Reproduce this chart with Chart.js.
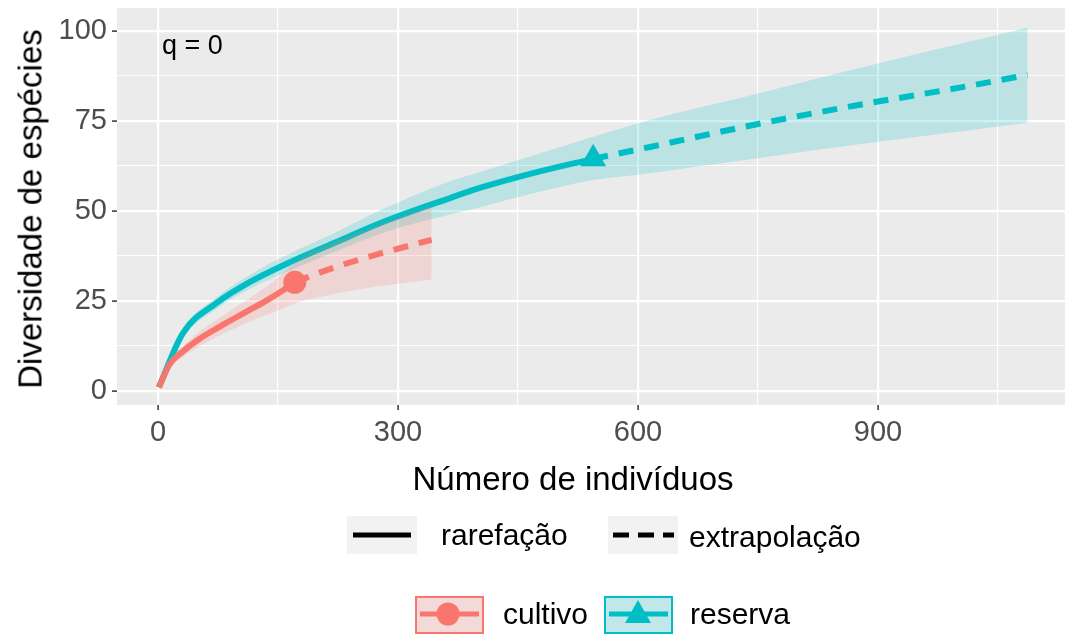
<!DOCTYPE html>
<html>
<head>
<meta charset="utf-8">
<script src="https://cdn.jsdelivr.net/npm/chart.js@4.4.1/dist/chart.umd.min.js"></script>
<style>
  html, body { margin: 0; padding: 0; background: #ffffff; }
  #wrap { position: relative; width: 1065px; height: 634px; overflow: hidden; font-family: "Liberation Sans", Arial, sans-serif; }
  #c { position: absolute; left: 0; top: 0; }
  .t { position: absolute; white-space: nowrap; color: #000; line-height: 1; }
  .key { position: absolute; }
</style>
</head>
<body>
<div id="wrap">
  <canvas id="c" width="1065" height="634"></canvas>
  <div class="t" id="ytitle" style="font-size:33px; left:30px; top:209px; transform: translate(-50%, -50%) rotate(-90deg);">Diversidade de espécies</div>
  <div class="t" style="font-size:33px; left:573px; top:478px; transform: translate(-50%, -50%);">Número de indivíduos</div>
  <div class="t" style="font-size:27px; left:162px; top:45px; transform: translate(0, -50%);">q = 0</div>

  <!-- legend row 1 -->
  <svg class="key" style="left:347px; top:516px;" width="70" height="38">
    <rect x="0" y="0" width="70" height="38" fill="#F2F2F2"/>
    <line x1="6" y1="19" x2="64" y2="19" stroke="#000" stroke-width="5"/>
  </svg>
  <div class="t" style="font-size:30px; left:441px; top:535px; transform: translate(0, -50%);">rarefação</div>
  <svg class="key" style="left:608px; top:516px;" width="70" height="38">
    <rect x="0" y="0" width="70" height="38" fill="#F2F2F2"/>
    <line x1="5" y1="19" x2="66" y2="19" stroke="#000" stroke-width="5" stroke-dasharray="16 9"/>
  </svg>
  <div class="t" style="font-size:30px; left:689px; top:537px; transform: translate(0, -50%);">extrapolação</div>

  <!-- legend row 2 -->
  <svg class="key" style="left:415px; top:596px;" width="69" height="38">
    <rect x="1" y="1" width="67" height="36" fill="#F2F2F2"/>
    <rect x="1" y="1" width="67" height="36" fill="rgba(248,118,109,0.2)" stroke="#F8766D" stroke-width="2"/>
    <line x1="5" y1="18" x2="64" y2="18" stroke="#F8766D" stroke-width="5"/>
    <circle cx="33" cy="18" r="11.5" fill="#F8766D"/>
  </svg>
  <div class="t" style="font-size:30px; left:503px; top:614px; transform: translate(0, -50%);">cultivo</div>
  <svg class="key" style="left:604px; top:596px;" width="69" height="38">
    <rect x="1" y="1" width="67" height="36" fill="#F2F2F2"/>
    <rect x="1" y="1" width="67" height="36" fill="rgba(0,191,196,0.2)" stroke="#00BFC4" stroke-width="2"/>
    <line x1="5" y1="18" x2="64" y2="18" stroke="#00BFC4" stroke-width="5"/>
    <polygon points="34,4 47,27 21,27" fill="#00BFC4"/>
  </svg>
  <div class="t" style="font-size:30px; left:690px; top:614px; transform: translate(0, -50%);">reserva</div>
</div>

<script>
// ---------- data ----------
const xTicksMajor = [0, 300, 600, 900];
const yTicksMajor = [0, 25, 50, 75, 100];

// cultivo – rarefaction
const cultivoRareX  = [1, 15, 30, 52, 75, 94, 115, 136, 155, 171];
const cultivoRareY  = [1, 7.6, 10.8, 14.5, 17.6, 20.0, 22.6, 25.2, 27.8, 30.2];
const cultivoRareLo = [1, 6.5, 9.3, 12.5, 15.2, 17.2, 19.3, 21.2, 22.8, 24.3];
const cultivoRareHi = [1, 8.6, 12.2, 16.5, 20.0, 22.8, 25.9, 29.0, 32.4, 35.8];
// cultivo – extrapolation
const cultivoExtX  = [171, 211, 273, 342];
const cultivoExtY  = [30.2, 33.6, 37.9, 42.0];
const cultivoExtLo = [24.3, 26.5, 29.0, 31.0];
const cultivoExtHi = [35.8, 40.5, 46.0, 51.5];
// cultivo – observed sample
const cultivoObs = { x: 171, y: 30.2 };

// reserva – rarefaction
const reservaRareX  = [1, 31, 73, 115, 165, 223, 282, 365, 402, 470, 544];
const reservaRareY  = [1, 16.0, 24.4, 30.3, 35.8, 41.4, 47.0, 53.6, 56.4, 60.6, 64.5];
const reservaRareLo = [1, 14.8, 22.8, 28.4, 33.5, 38.8, 44.0, 49.0, 51.0, 55.0, 58.6];
const reservaRareHi = [1, 17.2, 26.0, 32.3, 38.2, 44.2, 50.6, 58.3, 60.8, 65.5, 70.6];
// reserva – extrapolation
const reservaExtX  = [544, 615, 744, 874, 1000, 1087];
const reservaExtY  = [64.5, 67.8, 73.9, 79.4, 84.2, 87.8];
const reservaExtLo = [58.6, 60.5, 64.5, 68.5, 72.0, 74.5];
const reservaExtHi = [70.6, 75.3, 82.3, 89.6, 96.3, 101.0];
// reserva – observed sample
const reservaObs = { x: 544, y: 64.5 };

// ---------- helpers ----------
const pts = (xs, ys) => xs.map((x, i) => ({ x: x, y: ys[i] }));
const RED = '#F8766D', TEAL = '#00BFC4';
const redFill = 'rgba(248,118,109,0.2)', tealFill = 'rgba(0,191,196,0.2)';

const cultivoBandX  = cultivoRareX.concat(cultivoExtX.slice(1));
const cultivoBandLo = cultivoRareLo.concat(cultivoExtLo.slice(1));
const cultivoBandHi = cultivoRareHi.concat(cultivoExtHi.slice(1));
const reservaBandX  = reservaRareX.concat(reservaExtX.slice(1));
const reservaBandLo = reservaRareLo.concat(reservaExtLo.slice(1));
const reservaBandHi = reservaRareHi.concat(reservaExtHi.slice(1));

const band = (xs, ys, fill, color) => ({
  type: 'line', data: pts(xs, ys), borderWidth: 0, pointRadius: 0,
  backgroundColor: color, fill: fill, cubicInterpolationMode: 'monotone', borderColor: 'rgba(0,0,0,0)'
});
const line = (xs, ys, color, dash) => ({
  type: 'line', data: pts(xs, ys), borderColor: color, borderWidth: 6, pointRadius: 0,
  fill: false, borderDash: dash, borderCapStyle: 'butt', cubicInterpolationMode: 'monotone'
});

const datasets = [
  band(cultivoBandX, cultivoBandLo, false, redFill),          // 0
  band(cultivoBandX, cultivoBandHi, 0, redFill),              // 1
  band(reservaBandX, reservaBandLo, false, tealFill),         // 2
  band(reservaBandX, reservaBandHi, 2, tealFill),             // 3
  line(cultivoRareX, cultivoRareY, RED, []),
  line(cultivoExtX, cultivoExtY, RED, [15, 11]),
  line(reservaRareX, reservaRareY, TEAL, []),
  line(reservaExtX, reservaExtY, TEAL, [15, 11]),
  { type: 'scatter', data: [cultivoObs], pointStyle: 'circle', pointRadius: 11.5,
    backgroundColor: RED, borderColor: RED, borderWidth: 0 },
  { type: 'scatter', data: [reservaObs], pointStyle: 'triangle', pointRadius: 15,
    backgroundColor: TEAL, borderColor: TEAL, borderWidth: 0 }
];

const panelBg = {
  id: 'panelBg',
  beforeDraw(chart) {
    const a = chart.chartArea, ctx = chart.ctx;
    ctx.save();
    ctx.fillStyle = '#EBEBEB';
    ctx.fillRect(a.left, a.top, a.right - a.left, a.bottom - a.top);
    ctx.restore();
  }
};

const isMajorX = v => xTicksMajor.indexOf(v) >= 0;
const isMajorY = v => yTicksMajor.indexOf(v) >= 0;
const zeroPad = s => { s.paddingTop = 0; s.paddingBottom = 0; s.paddingLeft = 0; s.paddingRight = 0; };

new Chart(document.getElementById('c'), {
  type: 'scatter',
  data: { datasets: datasets },
  plugins: [panelBg],
  options: {
    responsive: false,
    devicePixelRatio: 1,
    animation: false,
    layout: { autoPadding: false, padding: { top: 8, right: 0, bottom: 179, left: 0 } },
    plugins: { legend: { display: false }, tooltip: { enabled: false } },
    scales: {
      x: {
        type: 'linear', min: -51.25, max: 1133.75,
        afterFit: s => { s.height = 50; zeroPad(s); },
        afterBuildTicks: s => { s.ticks = [0, 150, 300, 450, 600, 750, 900, 1050].map(v => ({ value: v })); },
        border: { display: false },
        grid: {
          color: '#FFFFFF',
          lineWidth: c => (c.tick && isMajorX(c.tick.value)) ? 2.2 : 1.1,
          tickColor: c => (c.tick && isMajorX(c.tick.value)) ? '#333333' : 'rgba(0,0,0,0)',
          tickLength: 5, tickWidth: 1.5
        },
        ticks: {
          color: '#4D4D4D', font: { family: 'Liberation Sans', size: 29 }, padding: 6,
          maxRotation: 0, autoSkip: false,
          callback: v => isMajorX(v) ? String(v) : ''
        }
      },
      y: {
        type: 'linear', min: -3.89, max: 106.4,
        afterFit: s => { s.width = 117; zeroPad(s); },
        afterBuildTicks: s => { s.ticks = [0, 12.5, 25, 37.5, 50, 62.5, 75, 87.5, 100].map(v => ({ value: v })); },
        border: { display: false },
        grid: {
          color: '#FFFFFF',
          lineWidth: c => (c.tick && isMajorY(c.tick.value)) ? 2.2 : 1.1,
          tickColor: c => (c.tick && isMajorY(c.tick.value)) ? '#333333' : 'rgba(0,0,0,0)',
          tickLength: 5, tickWidth: 1.5
        },
        ticks: {
          color: '#4D4D4D', font: { family: 'Liberation Sans', size: 29 }, padding: 5,
          autoSkip: false,
          callback: v => isMajorY(v) ? String(v) : ''
        }
      }
    }
  }
});
</script>
</body>
</html>
